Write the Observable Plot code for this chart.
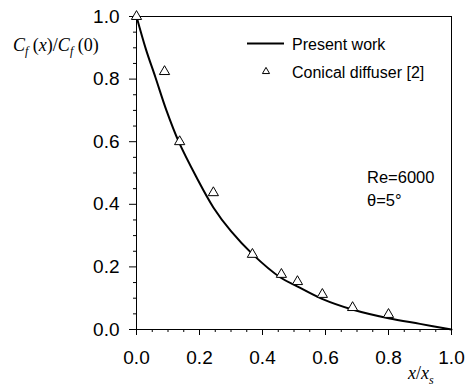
<!DOCTYPE html>
<html>
<head>
<meta charset="utf-8">
<script src="https://cdn.jsdelivr.net/npm/d3@7"></script>
<script src="https://cdn.jsdelivr.net/npm/@observablehq/plot@0.6"></script>
<style>
  html, body { margin: 0; padding: 0; background: white; }
  #chart { width: 465px; height: 387px; }
</style>
</head>
<body>
<div id="chart"></div>
<script>
// Present work (solid curve)
const curveX = [0, 0.03, 0.06, 0.095, 0.134, 0.19, 0.244, 0.30, 0.369, 0.457, 0.51, 0.589, 0.685, 0.80, 0.90, 1.0];
const curveY = [1.0, 0.895, 0.806, 0.70, 0.60, 0.487, 0.39, 0.314, 0.24, 0.166, 0.138, 0.098, 0.064, 0.036, 0.018, 0.0];
// Conical diffuser [2] (triangles)
const expX = [0.0, 0.089, 0.137, 0.244, 0.368, 0.46, 0.511, 0.59, 0.686, 0.80];
const expY = [1.0, 0.824, 0.60, 0.437, 0.24, 0.176, 0.153, 0.112, 0.07, 0.048];
// Ticks
const majorTicks = [0, 0.2, 0.4, 0.6, 0.8, 1.0];
const minorTicks = [0.05, 0.1, 0.15, 0.25, 0.3, 0.35, 0.45, 0.5, 0.55, 0.65, 0.7, 0.75, 0.85, 0.9, 0.95];
const legendLabels = ["Present work", "Conical diffuser [2]"];
const annotations = ["Re=6000", "\u03b8=5\u00b0"];

const curve = curveX.map((x, i) => ({x, y: curveY[i]}));
const exp = expX.map((x, i) => ({x, y: expY[i]}));

const fmt = d => d.toFixed(1);
const plot = Plot.plot({
  width: 465,
  height: 387,
  marginLeft: 136,
  marginRight: 14,
  marginTop: 16,
  marginBottom: 58,
  style: {fontFamily: "'Liberation Sans', Arial, sans-serif", fontSize: "19px", background: "white", color: "black"},
  x: {domain: [0, 1]},
  y: {domain: [0, 1]},
  marks: [
    Plot.axisX(majorTicks, {tickSize: 6, tickPadding: 14.5, tickFormat: fmt, fontSize: 19, label: null}),
    Plot.axisX(minorTicks, {tickSize: 3, text: null, label: null}),
    Plot.axisY(majorTicks, {tickSize: 7, tickPadding: 10, tickFormat: fmt, fontSize: 19, label: null}),
    Plot.axisY(minorTicks, {tickSize: 3, text: null, label: null}),
    Plot.frame({stroke: "black", strokeWidth: 1}),
    Plot.line(curve, {x: "x", y: "y", stroke: "black", strokeWidth: 2, curve: "catmull-rom"}),
    Plot.dot(exp, {x: "x", y: "y", symbol: "triangle", r: 3.8, stroke: "black", fill: "white", strokeWidth: 1})
  ]
});
document.getElementById("chart").appendChild(plot);

const svg = d3.select(plot);
// Legend
const lg = svg.append("g").attr("font-family", "'Liberation Sans', Arial, sans-serif").attr("font-size", 16).attr("fill", "black").attr("text-anchor", "start");
lg.append("line").attr("x1", 247).attr("x2", 284).attr("y1", 43.5).attr("y2", 43.5).attr("stroke", "black").attr("stroke-width", 2);
lg.append("text").attr("x", 292).attr("y", 49.5).text(legendLabels[0]);
lg.append("path").attr("d", d3.symbol(d3.symbolTriangle, 22)()).attr("transform", "translate(266,71.5)").attr("fill", "white").attr("stroke", "black");
lg.append("text").attr("x", 292).attr("y", 78).text(legendLabels[1]);
// Annotations
lg.append("text").attr("x", 367).attr("y", 183).attr("font-size", 16.5).text(annotations[0]);
lg.append("text").attr("x", 367).attr("y", 206).attr("font-size", 16.5).text(annotations[1]);

// Y label: C_f (x)/C_f (0)
const serif = "'Liberation Serif', 'Times New Roman', serif";
const yl = svg.append("text").attr("x", 13).attr("y", 51).attr("text-anchor", "start").attr("font-family", serif).attr("font-size", 18).attr("fill", "black");
yl.append("tspan").attr("font-style", "italic").text("C");
yl.append("tspan").attr("font-style", "italic").attr("font-size", 12).attr("dy", 4).text("f");
yl.append("tspan").attr("dy", -4).text("\u00a0(");
yl.append("tspan").attr("font-style", "italic").text("x");
yl.append("tspan").text(")/");
yl.append("tspan").attr("font-style", "italic").text("C");
yl.append("tspan").attr("font-style", "italic").attr("font-size", 12).attr("dy", 4).text("f");
yl.append("tspan").attr("dy", -4).text("\u00a0(0)");

// X label: x/x_s
const xl = svg.append("text").attr("x", 408).attr("y", 379).attr("text-anchor", "start").attr("font-family", serif).attr("font-size", 18).attr("fill", "black");
xl.append("tspan").attr("font-style", "italic").text("x");
xl.append("tspan").text("/");
xl.append("tspan").attr("font-style", "italic").text("x");
xl.append("tspan").attr("font-style", "italic").attr("font-size", 12).attr("dy", 5).text("s");
</script>
</body>
</html>
